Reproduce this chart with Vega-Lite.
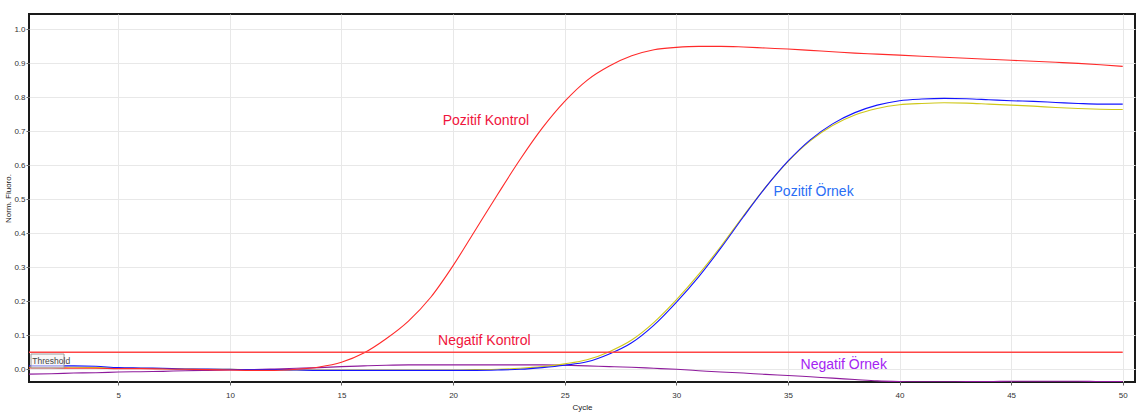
{
  "$schema": "https://vega.github.io/schema/vega-lite/v6.json",
  "width": 1106,
  "height": 368,
  "autosize": {"type": "none"},
  "padding": {"left": 29, "top": 14, "right": 5, "bottom": 33},
  "background": "white",
  "config": {
    "view": {"stroke": "#1a1a1a", "strokeWidth": 2},
    "font": "Liberation Sans",
    "axis": {
      "gridColor": "#e8e8e8",
      "gridWidth": 1,
      "domain": false,
      "labelFont": "Liberation Sans",
      "labelFontSize": 8,
      "labelColor": "#333333",
      "labelOverlap": false,
      "tickColor": "#666666",
      "tickSize": 3,
      "titleFont": "Liberation Sans",
      "titleFontSize": 8,
      "titleFontWeight": "normal",
      "titleColor": "#222222"
    }
  },
  "datasets": {
    "curves": [
      {"cycle": 1, "Pozitif Kontrol": 0.004, "Pozitif Örnek A": 0.010, "Pozitif Örnek B": 0.006, "Negatif Örnek": -0.014},
      {"cycle": 2, "Pozitif Kontrol": 0.004, "Pozitif Örnek A": 0.010, "Pozitif Örnek B": 0.006, "Negatif Örnek": -0.013},
      {"cycle": 3, "Pozitif Kontrol": 0.003, "Pozitif Örnek A": 0.010, "Pozitif Örnek B": 0.006, "Negatif Örnek": -0.011},
      {"cycle": 4, "Pozitif Kontrol": 0.003, "Pozitif Örnek A": 0.009, "Pozitif Örnek B": 0.005, "Negatif Örnek": -0.010},
      {"cycle": 5, "Pozitif Kontrol": 0.002, "Pozitif Örnek A": 0.005, "Pozitif Örnek B": 0.004, "Negatif Örnek": -0.008},
      {"cycle": 6, "Pozitif Kontrol": 0.002, "Pozitif Örnek A": 0.004, "Pozitif Örnek B": 0.003, "Negatif Örnek": -0.007},
      {"cycle": 7, "Pozitif Kontrol": 0.001, "Pozitif Örnek A": 0.003, "Pozitif Örnek B": 0.002, "Negatif Örnek": -0.006},
      {"cycle": 8, "Pozitif Kontrol": 0.000, "Pozitif Örnek A": 0.001, "Pozitif Örnek B": 0.001, "Negatif Örnek": -0.004},
      {"cycle": 9, "Pozitif Kontrol": -0.001, "Pozitif Örnek A": 0.001, "Pozitif Örnek B": 0.000, "Negatif Örnek": -0.003},
      {"cycle": 10, "Pozitif Kontrol": -0.002, "Pozitif Örnek A": 0.000, "Pozitif Örnek B": 0.000, "Negatif Örnek": -0.002},
      {"cycle": 11, "Pozitif Kontrol": -0.003, "Pozitif Örnek A": -0.001, "Pozitif Örnek B": -0.001, "Negatif Örnek": -0.001},
      {"cycle": 12, "Pozitif Kontrol": -0.003, "Pozitif Örnek A": -0.001, "Pozitif Örnek B": -0.001, "Negatif Örnek": 0.001},
      {"cycle": 13, "Pozitif Kontrol": 0.000, "Pozitif Örnek A": -0.002, "Pozitif Örnek B": -0.002, "Negatif Örnek": 0.003},
      {"cycle": 14, "Pozitif Kontrol": 0.007, "Pozitif Örnek A": -0.003, "Pozitif Örnek B": -0.002, "Negatif Örnek": 0.005},
      {"cycle": 15, "Pozitif Kontrol": 0.021, "Pozitif Örnek A": -0.003, "Pozitif Örnek B": -0.002, "Negatif Örnek": 0.008},
      {"cycle": 16, "Pozitif Kontrol": 0.048, "Pozitif Örnek A": -0.003, "Pozitif Örnek B": -0.002, "Negatif Örnek": 0.010},
      {"cycle": 17, "Pozitif Kontrol": 0.090, "Pozitif Örnek A": -0.003, "Pozitif Örnek B": -0.002, "Negatif Örnek": 0.012},
      {"cycle": 18, "Pozitif Kontrol": 0.142, "Pozitif Örnek A": -0.003, "Pozitif Örnek B": -0.002, "Negatif Örnek": 0.013},
      {"cycle": 19, "Pozitif Kontrol": 0.212, "Pozitif Örnek A": -0.003, "Pozitif Örnek B": -0.002, "Negatif Örnek": 0.013},
      {"cycle": 20, "Pozitif Kontrol": 0.305, "Pozitif Örnek A": -0.003, "Pozitif Örnek B": -0.002, "Negatif Örnek": 0.013},
      {"cycle": 21, "Pozitif Kontrol": 0.410, "Pozitif Örnek A": -0.003, "Pozitif Örnek B": -0.001, "Negatif Örnek": 0.013},
      {"cycle": 22, "Pozitif Kontrol": 0.515, "Pozitif Örnek A": -0.002, "Pozitif Örnek B": 0.000, "Negatif Örnek": 0.013},
      {"cycle": 23, "Pozitif Kontrol": 0.617, "Pozitif Örnek A": 0.000, "Pozitif Örnek B": 0.003, "Negatif Örnek": 0.013},
      {"cycle": 24, "Pozitif Kontrol": 0.710, "Pozitif Örnek A": 0.005, "Pozitif Örnek B": 0.008, "Negatif Örnek": 0.013},
      {"cycle": 25, "Pozitif Kontrol": 0.788, "Pozitif Örnek A": 0.012, "Pozitif Örnek B": 0.016, "Negatif Örnek": 0.012},
      {"cycle": 26, "Pozitif Kontrol": 0.850, "Pozitif Örnek A": 0.022, "Pozitif Örnek B": 0.028, "Negatif Örnek": 0.010},
      {"cycle": 27, "Pozitif Kontrol": 0.892, "Pozitif Örnek A": 0.045, "Pozitif Örnek B": 0.052, "Negatif Örnek": 0.008},
      {"cycle": 28, "Pozitif Kontrol": 0.922, "Pozitif Örnek A": 0.078, "Pozitif Örnek B": 0.086, "Negatif Örnek": 0.006},
      {"cycle": 29, "Pozitif Kontrol": 0.940, "Pozitif Örnek A": 0.130, "Pozitif Örnek B": 0.138, "Negatif Örnek": 0.003},
      {"cycle": 30, "Pozitif Kontrol": 0.947, "Pozitif Örnek A": 0.197, "Pozitif Örnek B": 0.204, "Negatif Örnek": 0.000},
      {"cycle": 31, "Pozitif Kontrol": 0.950, "Pozitif Örnek A": 0.272, "Pozitif Örnek B": 0.279, "Negatif Örnek": -0.004},
      {"cycle": 32, "Pozitif Kontrol": 0.950, "Pozitif Örnek A": 0.357, "Pozitif Örnek B": 0.362, "Negatif Örnek": -0.008},
      {"cycle": 33, "Pozitif Kontrol": 0.948, "Pozitif Örnek A": 0.448, "Pozitif Örnek B": 0.451, "Negatif Örnek": -0.011},
      {"cycle": 34, "Pozitif Kontrol": 0.945, "Pozitif Örnek A": 0.535, "Pozitif Örnek B": 0.536, "Negatif Örnek": -0.015},
      {"cycle": 35, "Pozitif Kontrol": 0.942, "Pozitif Örnek A": 0.612, "Pozitif Örnek B": 0.611, "Negatif Örnek": -0.018},
      {"cycle": 36, "Pozitif Kontrol": 0.938, "Pozitif Örnek A": 0.675, "Pozitif Örnek B": 0.672, "Negatif Örnek": -0.022},
      {"cycle": 37, "Pozitif Kontrol": 0.934, "Pozitif Örnek A": 0.722, "Pozitif Örnek B": 0.717, "Negatif Örnek": -0.026},
      {"cycle": 38, "Pozitif Kontrol": 0.930, "Pozitif Örnek A": 0.755, "Pozitif Örnek B": 0.748, "Negatif Örnek": -0.030},
      {"cycle": 39, "Pozitif Kontrol": 0.927, "Pozitif Örnek A": 0.777, "Pozitif Örnek B": 0.767, "Negatif Örnek": -0.034},
      {"cycle": 40, "Pozitif Kontrol": 0.924, "Pozitif Örnek A": 0.790, "Pozitif Örnek B": 0.778, "Negatif Örnek": -0.036},
      {"cycle": 41, "Pozitif Kontrol": 0.921, "Pozitif Örnek A": 0.795, "Pozitif Örnek B": 0.782, "Negatif Örnek": -0.037},
      {"cycle": 42, "Pozitif Kontrol": 0.918, "Pozitif Örnek A": 0.797, "Pozitif Örnek B": 0.784, "Negatif Örnek": -0.037},
      {"cycle": 43, "Pozitif Kontrol": 0.915, "Pozitif Örnek A": 0.796, "Pozitif Örnek B": 0.783, "Negatif Örnek": -0.036},
      {"cycle": 44, "Pozitif Kontrol": 0.912, "Pozitif Örnek A": 0.793, "Pozitif Örnek B": 0.780, "Negatif Örnek": -0.036},
      {"cycle": 45, "Pozitif Kontrol": 0.909, "Pozitif Örnek A": 0.790, "Pozitif Örnek B": 0.777, "Negatif Örnek": -0.035},
      {"cycle": 46, "Pozitif Kontrol": 0.906, "Pozitif Örnek A": 0.788, "Pozitif Örnek B": 0.774, "Negatif Örnek": -0.035},
      {"cycle": 47, "Pozitif Kontrol": 0.903, "Pozitif Örnek A": 0.785, "Pozitif Örnek B": 0.770, "Negatif Örnek": -0.035},
      {"cycle": 48, "Pozitif Kontrol": 0.900, "Pozitif Örnek A": 0.782, "Pozitif Örnek B": 0.767, "Negatif Örnek": -0.035},
      {"cycle": 49, "Pozitif Kontrol": 0.896, "Pozitif Örnek A": 0.780, "Pozitif Örnek B": 0.765, "Negatif Örnek": -0.036},
      {"cycle": 50, "Pozitif Kontrol": 0.891, "Pozitif Örnek A": 0.780, "Pozitif Örnek B": 0.764, "Negatif Örnek": -0.036}
    ],
    "threshold": [{"cycle": 1, "cycle2": 50, "value": 0.05}],
    "labels": [
      {"label": "Pozitif Kontrol", "cycle": 21.47, "value": 0.729, "group": "pk"},
      {"label": "Negatif Kontrol", "cycle": 21.4, "value": 0.082, "group": "nk"},
      {"label": "Pozitif Örnek", "cycle": 36.15, "value": 0.521, "group": "po"},
      {"label": "Negatif Örnek", "cycle": 37.5, "value": 0.013, "group": "no"}
    ],
    "thrbox": [{"cycle": 1.09, "cycle2": 2.57, "value": 0.045, "value2": 0.004}],
    "thrtext": [{"label": "Threshold", "cycle": 1.15, "value": 0.0245}]
  },
  "encoding": {
    "x": {"field": "cycle", "type": "quantitative", "scale": {"domain": [1, 50.55], "nice": false, "zero": false},
      "axis": {"values": [5, 10, 15, 20, 25, 30, 35, 40, 45, 50], "title": "Cycle", "labelPadding": 6, "titlePadding": 4, "labelOverlap": false}},
    "y": {"field": "value", "type": "quantitative", "scale": {"domain": [-0.0373, 1.0451], "nice": false, "zero": false},
      "axis": {"values": [0, 0.1, 0.2, 0.3, 0.4, 0.5, 0.6, 0.7, 0.8, 0.9, 1], "tickCount": 11, "format": ".1f", "title": "Norm. Fluoro.", "labelPadding": 1, "titlePadding": 1, "labelOverlap": false, "labelBound": false, "labelFlush": false, "labelSeparation": 0}}
  },
  "layer": [
    {
      "data": {"name": "curves"},
      "transform": [{"fold": ["Negatif Örnek", "Pozitif Örnek B", "Pozitif Örnek A", "Pozitif Kontrol"], "as": ["series", "value"]}],
      "mark": {"type": "line", "strokeWidth": 1.1, "interpolate": "monotone", "clip": true},
      "encoding": {
        "color": {"field": "series", "type": "nominal", "legend": null,
          "scale": {"domain": ["Pozitif Kontrol", "Pozitif Örnek A", "Pozitif Örnek B", "Negatif Örnek"], "range": ["#ff2a2a", "#1414ff", "#cfc81a", "#8e1b9c"]}},
        "order": {"field": "series"}
      }
    },
    {
      "data": {"name": "threshold"},
      "mark": {"type": "rule", "color": "#ff4545", "strokeWidth": 1.5},
      "encoding": {
        "x2": {"field": "cycle2"}
      }
    },
    {
      "data": {"name": "thrbox"},
      "mark": {"type": "rect", "fill": "#f4f4f4", "fillOpacity": 0.6, "stroke": "#9a9a9a", "strokeWidth": 1},
      "encoding": {
        "x2": {"field": "cycle2"},
        "y2": {"field": "value2"}
      }
    },
    {
      "data": {"name": "thrtext"},
      "mark": {"type": "text", "align": "left", "baseline": "middle", "fontSize": 8.5, "color": "#444444", "font": "Liberation Sans"},
      "encoding": {
        "text": {"field": "label"}
      }
    },
    {
      "data": {"name": "labels"},
      "mark": {"type": "text", "align": "center", "baseline": "middle", "fontSize": 14, "font": "Liberation Sans"},
      "encoding": {
        "text": {"field": "label"},
        "color": {"field": "group", "type": "nominal", "legend": null,
          "scale": {"domain": ["pk", "nk", "po", "no"], "range": ["#f0143c", "#f0143c", "#2a6ef5", "#a424f2"]}}
      }
    }
  ],
  "resolve": {"scale": {"color": "independent"}}
}
